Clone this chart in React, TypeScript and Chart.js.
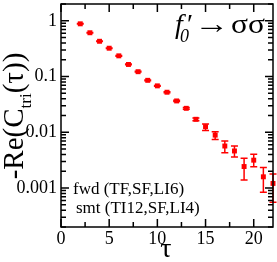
import React, { useEffect, useRef } from 'react';
import { Chart, registerables } from 'chart.js';

Chart.register(...registerables);

// ---- data ----
const tau = [2, 3, 4, 5, 6, 7, 8, 9, 10, 11, 12, 13, 14, 15, 16, 17, 18, 19, 20, 21, 22];
const values = [0.882, 0.61, 0.429, 0.322, 0.235, 0.1646, 0.1221, 0.0855, 0.068, 0.0523, 0.0365, 0.0269, 0.0171, 0.0126, 0.0089, 0.00567, 0.00462, 0.00243, 0.00316, 0.00159, 0.00121];
const errHigh = [0.89, 0.616, 0.434, 0.326, 0.238, 0.167, 0.124, 0.087, 0.0692, 0.0533, 0.0374, 0.0278, 0.0181, 0.01413, 0.01018, 0.00696, 0.00567, 0.00343, 0.00404, 0.00233, 0.00178];
const errLow = [0.874, 0.604, 0.424, 0.318, 0.232, 0.162, 0.1202, 0.084, 0.0668, 0.0513, 0.0356, 0.026, 0.0161, 0.01078, 0.00746, 0.00431, 0.00361, 0.00139, 0.0024, 0.000838, 0.000556];

const xTickValues = [0, 5, 10, 15, 20];
const xTickLabels = ['0', '5', '10', '15', '20'];
const xMinorValues = [2.5, 7.5, 12.5, 17.5];
const yTickValues = [1, 0.1, 0.01, 0.001];
const yTickLabels = ['1', '0.1', '0.01', '0.001'];
const yDecades = [0.0001, 0.001, 0.01, 0.1, 1];
const yMantissas = [2, 3, 4, 5, 6, 7, 8, 9];

const xLabel = 'τ';
const yLabelParts = ['-Re(C', 'tri', '(τ))'];
const titleParts = ['f', '0', '′', '→', 'σσ'];
const noteLines = ['fwd (TF,SF,LI6)', 'smt (TI12,SF,LI4)'];

const RED = '#ff0000';
const SERIF = '"Liberation Serif", "Times New Roman", serif';

const decorPlugin = {
  id: 'decor',
  beforeDatasetsDraw(chart: any) {
    const ctx = chart.ctx;
    const xs = chart.scales.x;
    const ys = chart.scales.y;
    ctx.save();
    ctx.strokeStyle = RED;
    ctx.lineWidth = 1.5;
    const cap = 3.5;
    for (let i = 0; i < tau.length; i++) {
      const x = xs.getPixelForValue(tau[i]);
      const yh = ys.getPixelForValue(errHigh[i]);
      const yl = ys.getPixelForValue(errLow[i]);
      ctx.beginPath();
      ctx.moveTo(x, yh);
      ctx.lineTo(x, yl);
      ctx.moveTo(x - cap, yh);
      ctx.lineTo(x + cap, yh);
      ctx.moveTo(x - cap, yl);
      ctx.lineTo(x + cap, yl);
      ctx.stroke();
    }
    ctx.restore();
  },
  afterDraw(chart: any) {
    const ctx = chart.ctx;
    const a = chart.chartArea;
    const xs = chart.scales.x;
    const ys = chart.scales.y;
    ctx.save();
    ctx.strokeStyle = '#000';
    ctx.lineWidth = 1.5;
    ctx.strokeRect(a.left, a.top, a.right - a.left, a.bottom - a.top);

    const major = 8;
    const minor = 5;
    ctx.beginPath();
    for (const v of xTickValues) {
      const x = xs.getPixelForValue(v);
      ctx.moveTo(x, a.bottom); ctx.lineTo(x, a.bottom - major);
      ctx.moveTo(x, a.top); ctx.lineTo(x, a.top + major);
    }
    for (const v of xMinorValues) {
      const x = xs.getPixelForValue(v);
      ctx.moveTo(x, a.bottom); ctx.lineTo(x, a.bottom - minor);
      ctx.moveTo(x, a.top); ctx.lineTo(x, a.top + minor);
    }
    for (const d of yDecades) {
      const yd = ys.getPixelForValue(d);
      if (yd >= a.top - 0.5 && yd <= a.bottom + 0.5) {
        ctx.moveTo(a.left, yd); ctx.lineTo(a.left + major, yd);
        ctx.moveTo(a.right, yd); ctx.lineTo(a.right - major, yd);
      }
      for (const m of yMantissas) {
        const y = ys.getPixelForValue(d * m);
        if (y < a.top - 0.5 || y > a.bottom + 0.5) continue;
        ctx.moveTo(a.left, y); ctx.lineTo(a.left + minor, y);
        ctx.moveTo(a.right, y); ctx.lineTo(a.right - minor, y);
      }
    }
    ctx.stroke();

    // tick labels
    ctx.fillStyle = '#000';
    ctx.font = `18px ${SERIF}`;
    ctx.textAlign = 'center';
    ctx.textBaseline = 'alphabetic';
    xTickValues.forEach((v, i) => {
      ctx.fillText(xTickLabels[i], xs.getPixelForValue(v), a.bottom + 16.5);
    });
    ctx.textAlign = 'right';
    ctx.textBaseline = 'middle';
    yTickValues.forEach((v, i) => {
      ctx.fillText(yTickLabels[i], a.left - 4, ys.getPixelForValue(v));
    });

    // x title
    ctx.font = `28px ${SERIF}`;
    ctx.textAlign = 'center';
    ctx.textBaseline = 'alphabetic';
    ctx.fillText(xLabel, (a.left + a.right) / 2 - 1, 257);

    // y title (rotated, with subscript)
    ctx.save();
    ctx.translate(23, 116);
    ctx.rotate(-Math.PI / 2);
    ctx.textAlign = 'left';
    ctx.textBaseline = 'alphabetic';
    const big = `29px ${SERIF}`;
    const small = `17px ${SERIF}`;
    ctx.font = big;
    const w0 = ctx.measureText(yLabelParts[0]).width;
    const w2 = ctx.measureText(yLabelParts[2]).width;
    ctx.font = small;
    const w1 = ctx.measureText(yLabelParts[1]).width;
    let px = -(w0 + w1 + w2) / 2;
    ctx.font = big;
    ctx.fillText(yLabelParts[0], px, 0);
    px += w0;
    ctx.font = small;
    ctx.fillText(yLabelParts[1], px, 8);
    px += w1;
    ctx.font = big;
    ctx.fillText(yLabelParts[2], px, 0);
    ctx.restore();

    // annotation f0' -> σσ
    ctx.textAlign = 'left';
    ctx.textBaseline = 'alphabetic';
    ctx.font = `italic 28px ${SERIF}`;
    ctx.fillText(titleParts[0], 175, 33);
    ctx.font = `italic 18px ${SERIF}`;
    ctx.fillText(titleParts[1], 180, 42);
    ctx.font = `28px ${SERIF}`;
    ctx.fillText(titleParts[2], 187, 33);
    // arrow stretched to span the same width as in the reference
    const aw = ctx.measureText(titleParts[3]).width || 1;
    ctx.save();
    ctx.translate(194, 33);
    ctx.scale(35 / aw, 1);
    ctx.fillText(titleParts[3], 0, 0);
    ctx.restore();
    const sw = ctx.measureText(titleParts[4]).width || 1;
    ctx.save();
    ctx.translate(231, 33);
    ctx.scale(Math.min(1.15, 34 / sw), 1);
    ctx.fillText(titleParts[4], 0, 0);
    ctx.restore();

    // notes
    ctx.font = `17px ${SERIF}`;
    ctx.fillText(noteLines[0], 73, 194);
    ctx.fillText(noteLines[1], 76, 213);
    ctx.restore();
  },
};

export default function App() {
  const ref = useRef<HTMLCanvasElement>(null);
  useEffect(() => {
    if (!ref.current) return;
    const chart = new Chart(ref.current, {
      type: 'scatter',
      data: {
        datasets: [
          {
            data: tau.map((t, i) => ({ x: t, y: values[i] })),
            pointStyle: 'rect',
            pointRadius: 3.5,
            pointBackgroundColor: RED,
            pointBorderColor: RED,
            pointBorderWidth: 0,
            clip: false as any,
          },
        ],
      },
      options: {
        animation: false,
        responsive: false,
        devicePixelRatio: 1,
        events: [],
        layout: { padding: { left: 61, right: 2, top: 2, bottom: 35 } },
        plugins: { legend: { display: false }, tooltip: { enabled: false }, title: { display: false } },
        scales: {
          x: { type: 'linear', min: 0, max: 22, display: false },
          y: { type: 'logarithmic', min: 0.0002, max: 2, display: false },
        },
      },
      plugins: [decorPlugin],
    });
    return () => chart.destroy();
  }, []);
  return (
    <div style={{ position: 'absolute', left: 0, top: 0, width: 277, height: 262, background: '#fff' }}>
      <canvas ref={ref} width={277} height={262} style={{ display: 'block', width: 277, height: 262 }} />
    </div>
  );
}
